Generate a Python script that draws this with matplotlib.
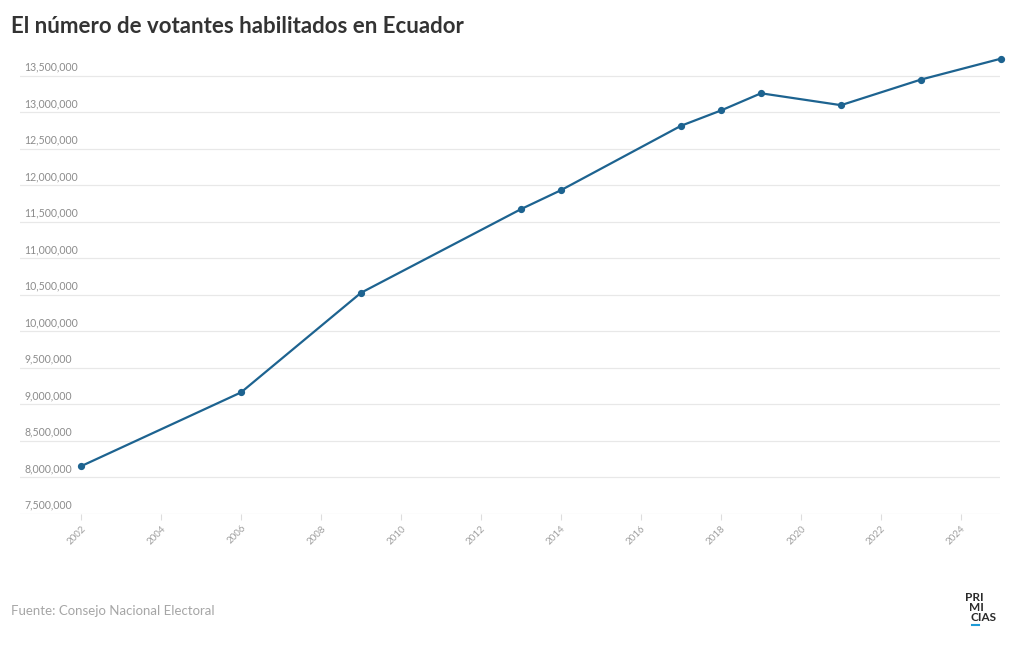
import matplotlib.pyplot as plt
from matplotlib.lines import Line2D

plt.rcParams['font.family'] = ['Lato', 'DejaVu Sans']

# datos
years = [2002, 2006, 2009, 2013, 2014, 2017, 2018, 2019, 2021, 2023, 2025]
voters = [8154425, 9165125, 10529765, 11675441, 11935000, 12816698,
          13026598, 13261994, 13099150, 13450047, 13736314]
y_ticks = [7500000 + 500000 * i for i in range(13)]
x_ticks = list(range(2002, 2025, 2))

W, H = 1020, 650
fig = plt.figure(figsize=(W / 100, H / 100), dpi=100)

# eje: de x=20 a 1000 px, de y=54 a 514 px
ax = fig.add_axes([20 / W, (H - 514) / H, 980 / W, 460 / H])
ax.set_xlim(2000.475, 2024.975)
ax.set_ylim(7500000, 13800000)

for s in ax.spines.values():
    s.set_visible(False)

grid_col = '#e8e8e8'
for v in y_ticks:
    ax.axhline(v, color=grid_col, linewidth=0.9, zorder=1)
    ax.text(2000.575, v + 45000, f'{v:,}', fontsize=7.6, color='#8c8c8c',
            ha='left', va='bottom', zorder=2)

ax.set_yticks([])
ax.set_xticks(x_ticks)
ax.set_xticklabels([str(x) for x in x_ticks], rotation=45, ha='right',
                   rotation_mode='anchor', fontsize=7, color='#a0a0a0')
ax.tick_params(axis='x', length=4, color='#dddddd', width=0.8, pad=3)

line_col = '#1d6390'
ax.plot(years, voters, color=line_col, linewidth=1.6, marker='o',
        markersize=4.2, clip_on=False, zorder=3)

# título y fuente
fig.text(11 / W, 1 - 33 / H, 'El número de votantes habilitados en Ecuador',
         fontsize=16, fontweight='bold', color='#333333', ha='left',
         va='baseline')
fig.text(11 / W, 1 - 615 / H, 'Fuente: Consejo Nacional Electoral',
         fontsize=9.5, color='#a6a6a6', ha='left', va='baseline')

# logo
logo_kw = dict(fontsize=8.5, fontweight='bold', color='#2a2a2a', va='baseline')
fig.text(983.5 / W, 1 - 601 / H, 'PRI', ha='right', **logo_kw)
fig.text(983.5 / W, 1 - 611 / H, 'MI', ha='right', **logo_kw)
fig.text(971 / W, 1 - 621 / H, 'CIAS', ha='left', **logo_kw)
fig.add_artist(Line2D([972 / W, 979 / W], [1 - 625 / H, 1 - 625 / H],
                      color='#1e9bd7', linewidth=1.5))

plt.savefig('out.png', dpi=100)
